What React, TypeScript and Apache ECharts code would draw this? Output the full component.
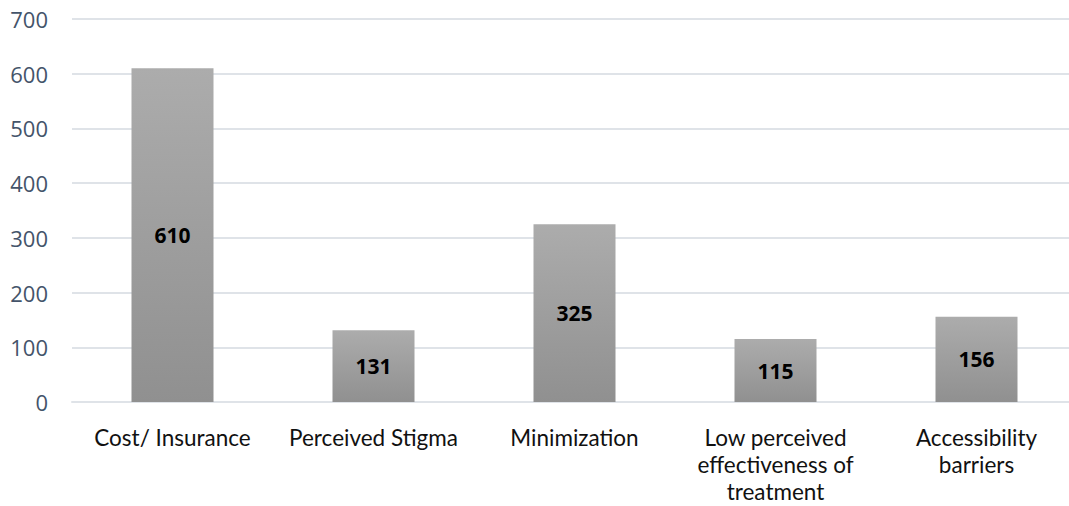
import React, { useEffect, useRef } from "react";
import * as echarts from "echarts";

const categories = [
  "Cost/ Insurance",
  "Perceived Stigma",
  "Minimization",
  "Low perceived\neffectiveness of\ntreatment",
  "Accessibility\nbarriers",
];
const values = [610, 131, 325, 115, 156];

export default function App() {
  const ref = useRef<HTMLDivElement>(null);
  useEffect(() => {
    if (!ref.current) return;
    const chart = echarts.init(ref.current, undefined, { renderer: "svg" });
    chart.setOption({
      animation: false,
      grid: { left: 72, right: 0, top: 19, bottom: 104, containLabel: false },
      xAxis: {
        type: "category",
        data: categories,
        axisTick: { show: false },
        axisLine: { show: true, lineStyle: { color: "#dfe3e8", width: 2 } },
        axisLabel: {
          interval: 0,
          color: "#111",
          fontFamily: "Lato, 'Open Sans', sans-serif",
          fontSize: 22.5,
          lineHeight: 27,
          margin: 22,
        },
      },
      yAxis: {
        type: "value",
        min: 0,
        max: 700,
        interval: 100,
        axisLine: { show: false },
        axisTick: { show: false },
        splitLine: { lineStyle: { color: "#dfe3e8", width: 2 } },
        axisLabel: {
          color: "#44546a",
          fontFamily: "'Open Sans', sans-serif",
          fontSize: 22,
          margin: 24,
        },
      },
      series: [
        {
          type: "bar",
          data: values,
          barWidth: 82,
          itemStyle: {
            color: new echarts.graphic.LinearGradient(0, 0, 0, 1, [
              { offset: 0, color: "#acacac" },
              { offset: 1, color: "#909090" },
            ]),
          },
          label: {
            show: true,
            position: "inside",
            color: "#000",
            fontWeight: "bold",
            fontFamily: "'Open Sans', sans-serif",
            fontSize: 21,
          },
        },
      ],
    });
    return () => chart.dispose();
  }, []);
  return (
    <div
      ref={ref}
      style={{ position: "fixed", left: 0, top: 0, width: 1077, height: 506, background: "#fff" }}
    />
  );
}
